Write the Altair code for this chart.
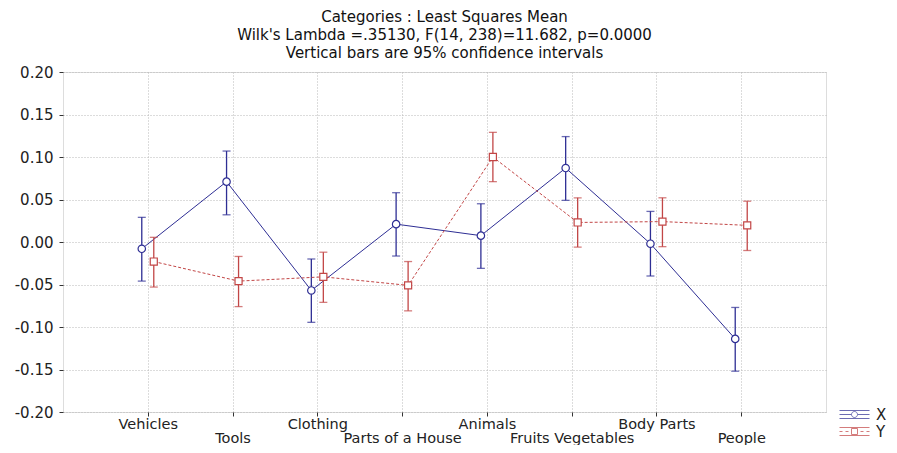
import altair as alt
import pandas as pd

categories = ["Vehicles", "Tools", "Clothing", "Parts of a House",
              "Animals", "Fruits Vegetables", "Body Parts", "People"]
series_names = ["X", "Y"]

x_mean = [-0.008, 0.071, -0.057, 0.021, 0.0075, 0.087, -0.002, -0.114]
x_lo = [-0.046, 0.032, -0.0945, -0.0165, -0.031, 0.049, -0.040, -0.152]
x_hi = [0.029, 0.107, -0.020, 0.058, 0.045, 0.124, 0.036, -0.077]

y_mean = [-0.023, -0.046, -0.041, -0.051, 0.100, 0.023, 0.024, 0.0196]
y_lo = [-0.053, -0.076, -0.071, -0.081, 0.071, -0.006, -0.0055, -0.010]
y_hi = [0.0055, -0.017, -0.012, -0.023, 0.129, 0.052, 0.052, 0.048]

y_ticks = [-0.20, -0.15, -0.10, -0.05, 0.00, 0.05, 0.10, 0.15, 0.20]
title_lines = ["Categories : Least Squares Mean",
               "Wilk's Lambda =.35130, F(14, 238)=11.682, p=0.0000",
               "Vertical bars are 95% confidence intervals"]

BLUE = "#2e2e94"
RED = "#c24646"
FONT = "DejaVu Sans"

rows = []
for i, c in enumerate(categories):
    rows.append({"category": c, "series": "X", "mean": x_mean[i], "lo": x_lo[i], "hi": x_hi[i]})
    rows.append({"category": c, "series": "Y", "mean": y_mean[i], "lo": y_lo[i], "hi": y_hi[i]})
df = pd.DataFrame(rows)

second_row = "indexof(['Tools','Parts of a House','Fruits Vegetables','People'], datum.value) >= 0"

x_enc = alt.X(
    "category:O", sort=categories,
    scale=alt.Scale(type="point", padding=1),
    axis=alt.Axis(
        title=None, labelAngle=0, grid=True, gridDash=[1, 2], gridColor="#b8b8b8",
        ticks=True, tickSize=4, tickColor="#333", domain=False,
        labelFont=FONT, labelFontSize=14.5, labelColor="#222",
        labelPadding={"condition": {"test": second_row, "value": 15}, "value": 1},
        labelBaseline="top",
    ),
)
y_scale = alt.Scale(domain=[-0.2, 0.2], nice=False, zero=False)
y_axis = alt.Axis(
    title=None, values=y_ticks, grid=True, gridDash=[1, 2], gridColor="#b8b8b8",
    tickSize=4, tickColor="#333", domain=False,
    labelFont=FONT, labelFontSize=15, labelColor="#222", labelPadding=6,
    labelExpr="(datum.value < -0.000001 ? '-' : '') + format(abs(datum.value), '.2f')",
)

base = alt.Chart(df)

def series_layers(name, color, offset, dash, shape, size):
    d = base.transform_filter(alt.datum.series == name)
    line_kwargs = dict(color=color, strokeWidth=1, xOffset=offset)
    if dash:
        line_kwargs["strokeDash"] = dash
    line = d.mark_line(**line_kwargs).encode(
        x=x_enc, y=alt.Y("mean:Q", scale=y_scale, axis=y_axis))
    rule = d.mark_rule(color=color, strokeWidth=1.3, xOffset=offset).encode(
        x=x_enc, y="lo:Q", y2="hi:Q")
    cap_lo = d.mark_tick(color=color, thickness=1.3, size=8, xOffset=offset,
                         orient="horizontal").encode(x=x_enc, y="lo:Q")
    cap_hi = d.mark_tick(color=color, thickness=1.3, size=8, xOffset=offset,
                         orient="horizontal").encode(x=x_enc, y="hi:Q")
    pts = d.mark_point(shape=shape, filled=True, fill="white", stroke=color,
                       strokeWidth=1.2, size=size, opacity=1, xOffset=offset).encode(
        x=x_enc, y="mean:Q")
    return [line, rule, cap_lo, cap_hi, pts]

x_path = ("M-3,-0.8H3M-3,0.8H3M-3,0H-0.6M0.6,0H3"
          "M-0.6,0A0.6,0.6 0 1,0 0.6,0A0.6,0.6 0 1,0 -0.6,0Z")
y_path = ("M-3,-0.8H3M-3,0.8H3M-3,0H-2.4M-1.8,0H-1.2M1.2,0H1.8M2.4,0H3"
          "M-0.6,-0.6H0.6V0.6H-0.6Z")

legend_layer = base.transform_filter("false").mark_point(filled=False, strokeWidth=1).encode(
    x=x_enc,
    y=alt.Y("mean:Q"),
    color=alt.Color("series:N", scale=alt.Scale(domain=series_names, range=[BLUE, RED]),
                    legend=alt.Legend(title=None, orient="none", legendX=784, legendY=335,
                                      symbolSize=100, labelOffset=14, rowPadding=1,
                                      labelFont=FONT, labelFontSize=15, labelColor="#222",
                                      symbolStrokeWidth=1, symbolFillColor="white",
                                      padding=0)),
    shape=alt.Shape("series:N", scale=alt.Scale(domain=series_names, range=[x_path, y_path])),
)

layers = series_layers("X", BLUE, -6, None, "circle", 55) + \
    series_layers("Y", RED, 6, [3, 2], "square", 50) + [legend_layer]

chart = alt.layer(*layers).properties(
    width=763, height=340,
    autosize=alt.AutoSizeParams(type="none"),
    padding={"left": 55, "top": 64, "right": 63, "bottom": 33},
    title=alt.TitleParams(text=title_lines, font=FONT, fontSize=15, fontWeight="normal",
                          anchor="middle", color="#111", lineHeight=18, offset=4),
).configure_view(stroke="#222", strokeWidth=1).configure(background="white")

chart.save("out.html", embed_options={"renderer": "svg", "actions": False})
